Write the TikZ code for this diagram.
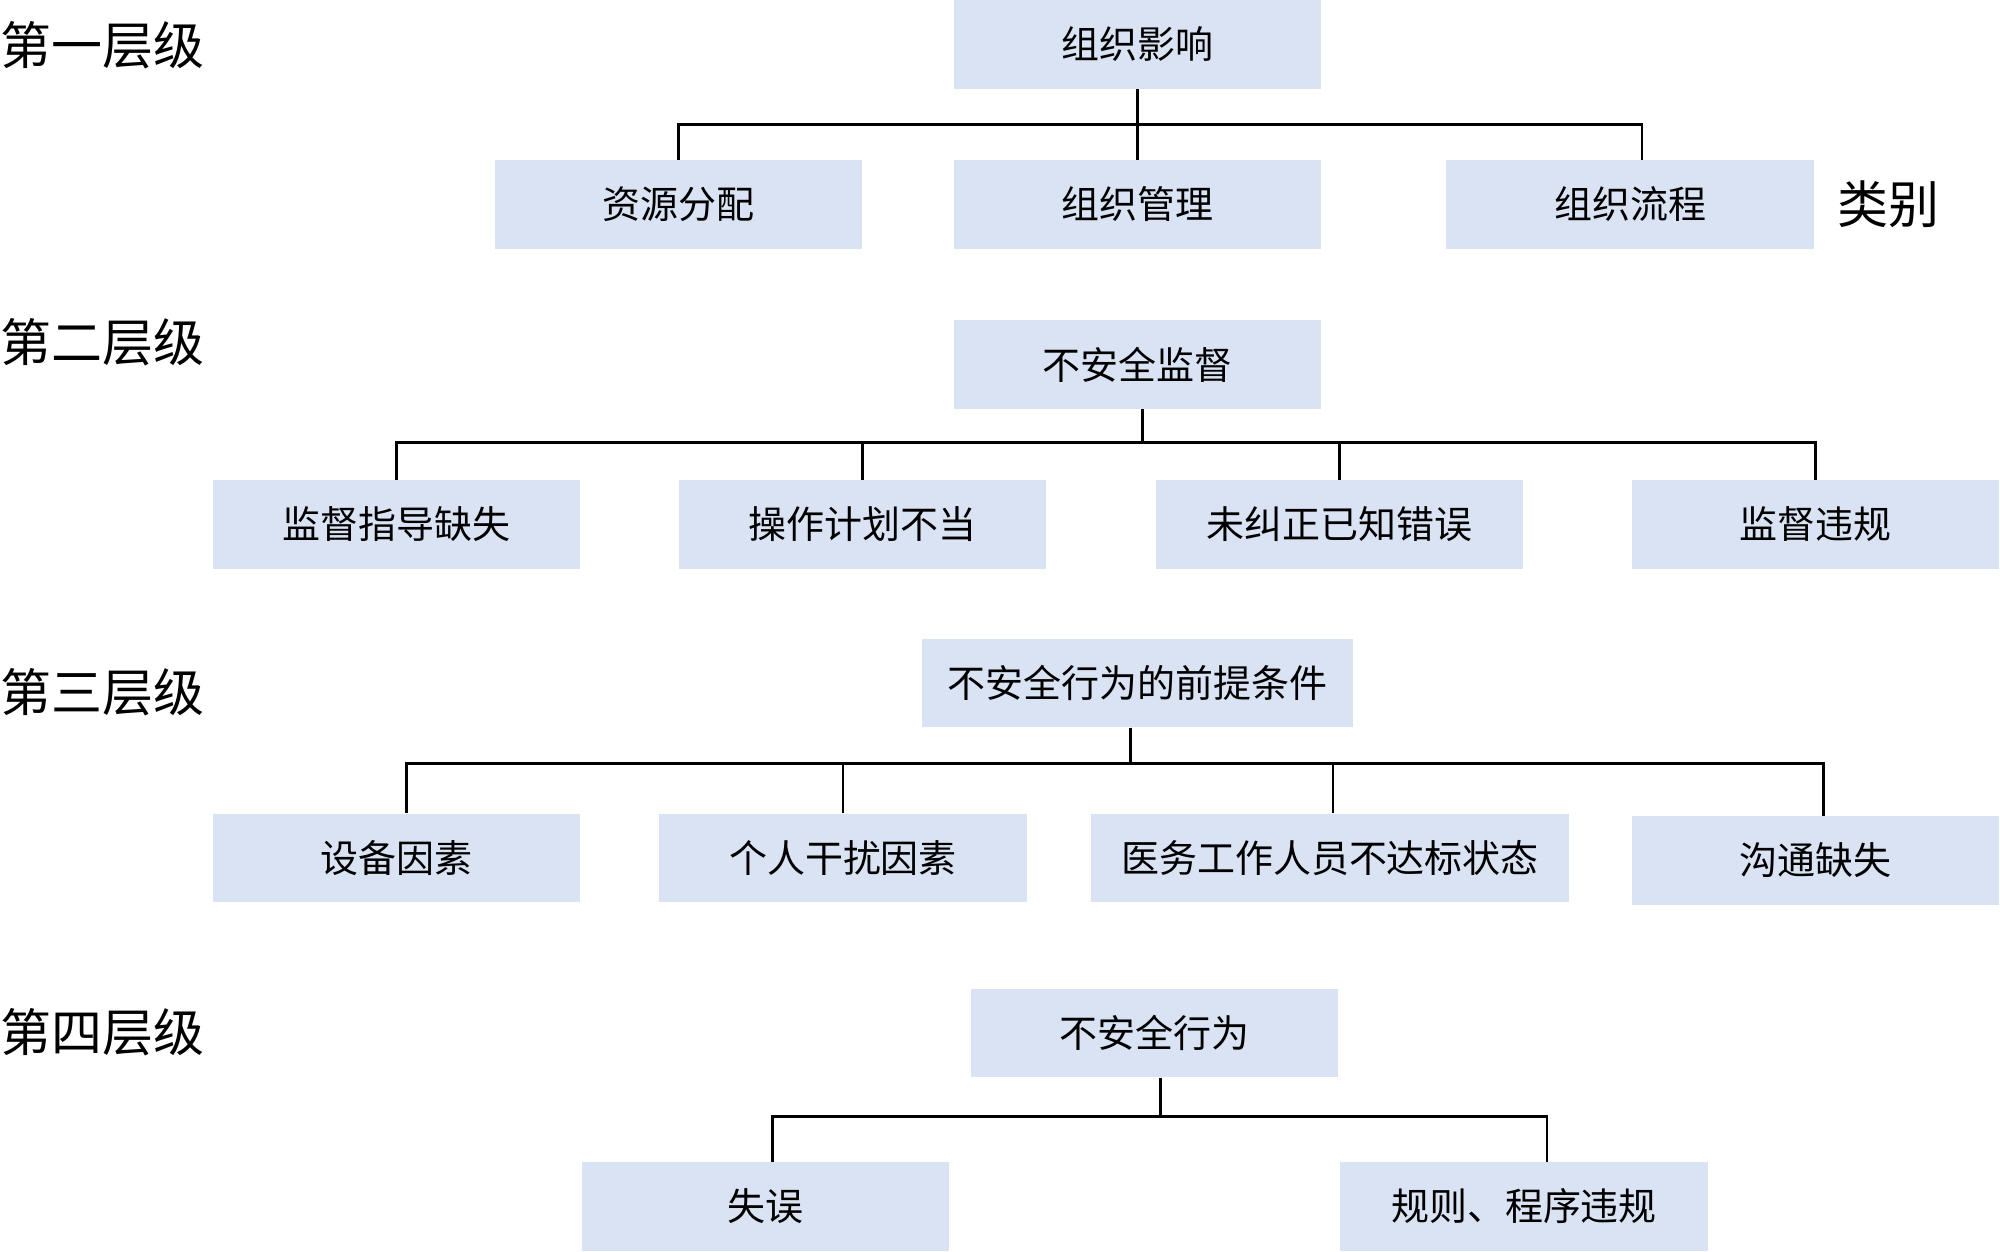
\documentclass[tikz,border=0pt]{standalone}
\usepackage{fontspec}
\setmainfont{Noto Sans CJK SC}
\usepackage{tikz}

\definecolor{boxblue}{HTML}{DAE3F3}

\begin{document}
\begin{tikzpicture}[x=0.01cm, y=-0.01cm,
        item/.style={fill=boxblue, minimum width=3.67cm, minimum height=0.88cm, inner sep=0pt, font=\fontsize{10.8}{13}\selectfont},
        tier/.style={anchor=west, inner sep=0pt, font=\fontsize{14.5}{17}\selectfont},
        link/.style={line width=0.8pt}]
        \useasboundingbox (0,0) rectangle (2000,1251);

        % first tier
        \node[tier] (t1) at (0,45) {第一层级};
        \node[item] (org) at (1137.5,44.5) {组织影响};
        \node[item] (res) at (678.5,204.5) {资源分配};
        \node[item] (man) at (1137.5,204.5) {组织管理};
        \node[item] (pro) at (1630,204.5) {组织流程};
        \node[tier] (cat) at (1837,204) {类别};
        \draw[link] (org.south) -- ++(0,35) -| (res.north);
        \draw[link] (org.south) -- (man.north);
        \draw[link] (org.south) -- ++(0,35) -| ([xshift=0.12cm]pro.north);

        % second tier
        \node[tier] (t2) at (0,342) {第二层级};
        \node[item] (sup) at (1137.5,364.5) {不安全监督};
        \node[item] (s1) at (396.5,524.5) {监督指导缺失};
        \node[item] (s2) at (862.5,524.5) {操作计划不当};
        \node[item] (s3) at (1339.5,524.5) {未纠正已知错误};
        \node[item] (s4) at (1815.5,524.5) {监督违规};
        \draw[link] ([xshift=0.05cm]sup.south) -- ++(0,33) -| (s1.north);
        \draw[link] ([xshift=0.05cm]sup.south) -- ++(0,33) -| (s2.north);
        \draw[link] ([xshift=0.05cm]sup.south) -- ++(0,33) -| (s3.north);
        \draw[link] ([xshift=0.05cm]sup.south) -- ++(0,33) -| (s4.north);

        % third tier
        \node[tier] (t3) at (0,692) {第三层级};
        \node[item, minimum width=4.31cm] (pre) at (1137.5,683) {不安全行为的前提条件};
        \node[item] (p1) at (396.5,858) {设备因素};
        \node[item] (p2) at (843,858) {个人干扰因素};
        \node[item, minimum width=4.78cm] (p3) at (1330,858) {医务工作人员不达标状态};
        \node[item] (p4) at (1815.5,860.5) {沟通缺失};
        \draw[link] ([xshift=-0.07cm]pre.south) -- ++(0,36) -| ([xshift=0.1cm]p1.north);
        \draw[link] ([xshift=-0.07cm]pre.south) -- ++(0,36) -| (p2.north);
        \draw[link] ([xshift=-0.07cm]pre.south) -- ++(0,36) -| ([xshift=0.03cm]p3.north);
        \draw[link] ([xshift=-0.07cm]pre.south) -- ++(0,36) -| ([xshift=0.08cm]p4.north);

        % fourth tier
        \node[tier] (t4) at (0,1032) {第四层级};
        \node[item] (act) at (1154.5,1033) {不安全行为};
        \node[item] (a1) at (765.5,1206.5) {失误};
        \node[item] (a2) at (1524,1206.5) {规则、程序违规};
        \draw[link] ([xshift=0.06cm]act.south) -- ++(0,39) -| ([xshift=0.07cm]a1.north);
        \draw[link] ([xshift=0.06cm]act.south) -- ++(0,39) -| ([xshift=0.23cm]a2.north);
    \end{tikzpicture}
\end{document}
